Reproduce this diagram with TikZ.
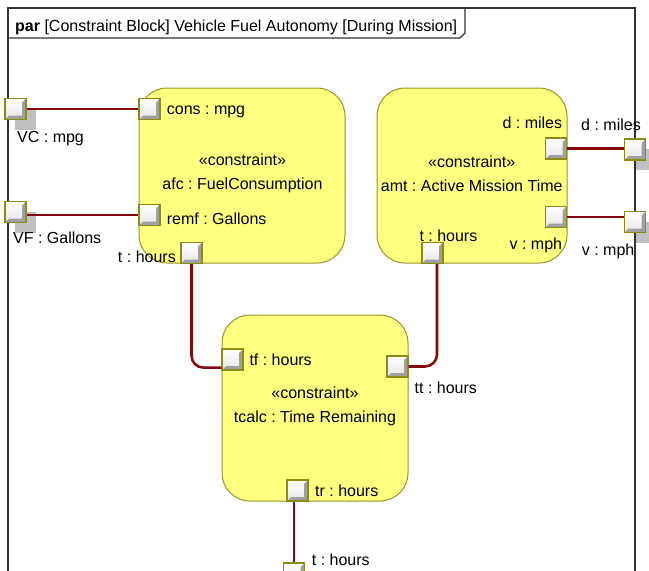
\documentclass[tikz,border=0pt]{standalone}
\usepackage{fontspec}
\setmainfont{Liberation Sans}
\usetikzlibrary{calc}
\frenchspacing
\definecolor{blockfill}{RGB}{255,255,128}
\definecolor{blockline}{RGB}{150,150,40}
\definecolor{portline}{RGB}{140,140,20}
\definecolor{connred}{RGB}{135,8,8}
\definecolor{shadowgray}{RGB}{192,192,192}
\definecolor{bevelgray}{RGB}{160,160,160}
\definecolor{framegray}{RGB}{50,50,50}
\begin{document}
\frenchspacing
\begin{tikzpicture}[x=1pt,y=-1pt,
  every node/.style={font=\fontsize{16pt}{19pt}\selectfont},
  cblock/.style={draw=blockline, fill=blockfill, line width=1pt, rounded corners=28pt, inner sep=0pt},
  blocktext/.style={align=center, inner sep=0pt, font=\fontsize{16pt}{24pt}\selectfont},
  port/.style={draw=portline, line width=1.2pt, minimum size=21pt, inner sep=0pt, fill=white,
    path picture={
      \shade[top color=white, bottom color=gray!20] (path picture bounding box.south west) rectangle (path picture bounding box.north east);
      \fill[bevelgray] (path picture bounding box.south west) -- (path picture bounding box.south east)
        -- (path picture bounding box.north east) -- ([shift={(-4pt,-4pt)}]path picture bounding box.north east)
        -- ([shift={(-4pt,4pt)}]path picture bounding box.south east) -- ([shift={(4pt,4pt)}]path picture bounding box.south west) -- cycle;
    }},
  pshadow/.style={fill=shadowgray, minimum size=21pt, inner sep=0pt},
  conn/.style={draw=connred, line width=2.6pt, rounded corners=12pt},
  lbl/.style={inner sep=0pt, text height=11.5pt, text depth=0pt},
  frameline/.style={draw=framegray, line width=1.2pt}]
\useasboundingbox (0,0) rectangle (649,571);
\clip (0,0) rectangle (649,571);

% shadows of boundary ports
\node[pshadow] (vcs) at (25.5,119) {};
\node[pshadow] (vfs) at (25.5,222) {};
\node[pshadow] (extds) at (645,159.5) {};
\node[pshadow] (extvs) at (645,232) {};
\node[pshadow] (tbs) at (304,583.5) {};

% frame
\draw[frameline] (8,600) -- (8,8) -- (635,8) -- (635,600);
\draw[frameline] (8,38) -- (460,38) -- (465,33) -- (465,8);
\node[anchor=west, inner sep=0pt, text height=11.5pt, text depth=0pt] (title) at (15,26)
  {\textbf{par} [Constraint Block] Vehicle Fuel Autonomy [During Mission]};

% constraint blocks
\node[cblock, minimum width=206pt, minimum height=175pt] (afc) at (242,175.5) {};
\node[cblock, minimum width=190pt, minimum height=175pt] (amt) at (472,175.5) {};
\node[cblock, minimum width=186pt, minimum height=186pt] (tcalc) at (315,408) {};
\node[blocktext] (afctxt) at (242.5,173.7) {«constraint»\\afc : FuelConsumption};
\node[blocktext] (amttxt) at (471.7,173.7) {«constraint»\\amt : Active Mission Time};
\node[blocktext] (tcalctxt) at (315,406) {«constraint»\\tcalc : Time Remaining};

% port positions
\path (149.5,109) coordinate (consc) (149.5,215) coordinate (remfc) (191.5,253) coordinate (afctc)
      (15.5,109) coordinate (vcc) (15.5,212) coordinate (vfc)
      (556,148.5) coordinate (amtdc) (556,217) coordinate (amtvc) (432.5,253) coordinate (amttc)
      (635,149.5) coordinate (extdc) (635,222) coordinate (extvc)
      (232.5,359.5) coordinate (tfc) (397.5,366.5) coordinate (ttc) (297.5,490.5) coordinate (trc)
      (294,573.5) coordinate (tbc);
\node[port] (cons) at (consc) {};
\node[port] (remf) at (remfc) {};
\node[port] (afct) at (afctc) {};
\node[port] (vc) at (vcc) {};
\node[port] (vf) at (vfc) {};
\node[port] (amtd) at (amtdc) {};
\node[port] (amtv) at (amtvc) {};
\node[port] (amtt) at (amttc) {};
\node[port] (extd) at (extdc) {};
\node[port] (extv) at (extvc) {};
\node[port] (tf) at (tfc) {};
\node[port] (tt) at (ttc) {};
\node[port] (tr) at (trc) {};
\node[port] (tb) at (tbc) {};

% connectors
\draw[conn] (vc.east) -- (cons.west);
\draw[conn] (vf.east |- remf.west) -- (remf.west);
\draw[conn] (amtd.east) -- (extd.west |- amtd.east);
\draw[conn] (amtv.east) -- (extv.west |- amtv.east);
\draw[conn] (afct.south) |- ([yshift=3pt]tf.south west);
\draw[conn] ([xshift=4.5pt]amtt.south) |- (tt.east);
\draw[conn] (tr.south -| tb.north) -- (tb.north);

% labels
\node[lbl, anchor=west] (lcons) at (166.7,109) {cons : mpg};
\node[lbl, anchor=west] (lremf) at (166.7,219) {remf : Gallons};
\node[lbl, anchor=east] (lafct) at (176,257) {t : hours};
\node[lbl, anchor=west] (lvc) at (17,136.7) {VC : mpg};
\node[lbl, anchor=west] (lvf) at (13,237.3) {VF : Gallons};
\node[lbl, anchor=east] (lamtd) at (562.3,122.7) {d : miles};
\node[lbl, anchor=east] (lamtv) at (562.3,243.3) {v : mph};
\node[lbl, anchor=west] (lamtt) at (419.3,235.7) {t : hours};
\node[lbl, anchor=west] (lextd) at (581,124.3) {d : miles};
\node[lbl, anchor=west] (lextv) at (581.7,250) {v : mph};
\node[lbl, anchor=west] (ltf) at (249.3,360) {tf : hours};
\node[lbl, anchor=west] (ltt) at (414.5,388) {tt : hours};
\node[lbl, anchor=west] (ltr) at (315,490.7) {tr : hours};
\node[lbl, anchor=west] (ltb) at (311.7,560) {t : hours};
\end{tikzpicture}
\end{document}
